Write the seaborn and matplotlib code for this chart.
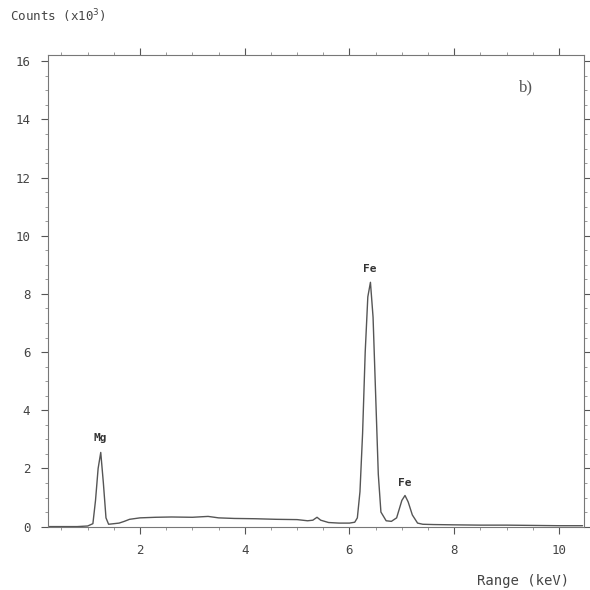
import matplotlib
matplotlib.use("Agg")
import matplotlib.pyplot as plt
import seaborn as sns
import pandas as pd
from matplotlib.ticker import MultipleLocator

# Spectrum (energy in keV, counts in thousands)
energy = [0.25, 0.5, 0.8, 1.0, 1.1, 1.15, 1.2, 1.25, 1.3, 1.35, 1.4, 1.5, 1.6,
          1.7, 1.8, 2.0, 2.3, 2.6, 3.0, 3.3, 3.5, 3.8, 4.2, 4.6, 5.0, 5.2,
          5.3, 5.38, 5.45, 5.6, 5.8, 6.0, 6.1, 6.15, 6.2, 6.25, 6.3, 6.35,
          6.4, 6.45, 6.5, 6.55, 6.6, 6.7, 6.8, 6.9, 6.95, 7.0, 7.06, 7.12,
          7.2, 7.3, 7.4, 7.6, 8.0, 8.5, 9.0, 9.5, 10.0, 10.45]
counts = [0.0, 0.0, 0.0, 0.02, 0.1, 0.9, 2.0, 2.55, 1.5, 0.3, 0.08, 0.1, 0.12,
          0.18, 0.25, 0.3, 0.32, 0.33, 0.32, 0.35, 0.3, 0.28, 0.27, 0.25, 0.24, 0.2,
          0.22, 0.32, 0.22, 0.14, 0.12, 0.12, 0.15, 0.3, 1.2, 3.2, 6.0, 7.9,
          8.4, 7.2, 4.5, 1.8, 0.5, 0.2, 0.18, 0.3, 0.6, 0.9, 1.07, 0.85,
          0.4, 0.12, 0.08, 0.07, 0.06, 0.05, 0.05, 0.04, 0.03, 0.03]

peak_labels = ["Mg", "Fe", "Fe"]
peak_x = [1.25, 6.38, 7.05]
peak_y = [3.05, 8.85, 1.5]

x_ticks = [2, 4, 6, 8, 10]
y_ticks = [0, 2, 4, 6, 8, 10, 12, 14, 16]

sns.set_style("ticks")
plt.rcParams["font.family"] = ["DejaVu Sans Mono"]

df = pd.DataFrame({"energy": energy, "counts": counts})

fig = plt.figure(figsize=(5.9, 5.9), dpi=100)
ax = fig.add_axes([0.082, 0.106, 0.908, 0.8])

ink = "#555555"
sns.lineplot(data=df, x="energy", y="counts", ax=ax, color=ink, linewidth=1.0)

ax.set_xlim(0.25, 10.48)
ax.set_ylim(-0.03, 16.2)
ax.set_xticks(x_ticks)
ax.set_yticks(y_ticks)
ax.set_xticklabels([str(v) for v in x_ticks])
ax.set_yticklabels([str(v) for v in y_ticks])
ax.xaxis.set_minor_locator(MultipleLocator(0.5))
ax.yaxis.set_minor_locator(MultipleLocator(0.5))
ax.tick_params(axis="both", which="major", length=5, width=0.8, color=ink,
               labelsize=9, labelcolor="#444444")
ax.tick_params(axis="both", which="minor", length=2.5, width=0.6, color="#888888")
ax.tick_params(top=True, right=True, which="both")
ax.tick_params(axis="x", pad=7)
ax.tick_params(axis="y", pad=8)
for s in ax.spines.values():
    s.set_color("#777777")
    s.set_linewidth(0.8)
ax.set_xlabel("")
ax.set_ylabel("")

for lab, px, py in zip(peak_labels, peak_x, peak_y):
    ax.text(px, py, lab, ha="center", va="center", fontsize=8, color="#333333",
            fontweight="bold")

ax.text(9.37, 15.1, "b)", ha="center", va="center", fontsize=12,
        color="#555555", family=["Liberation Serif"])

fig.text(0.017, 0.972, "Counts (x10$^3$)", ha="left", va="center",
         fontsize=9, color="#444444")
fig.text(0.965, 0.016, "Range (keV)", ha="right", va="center",
         fontsize=10, color="#444444")

fig.savefig("out.png", dpi=100, facecolor="white")
